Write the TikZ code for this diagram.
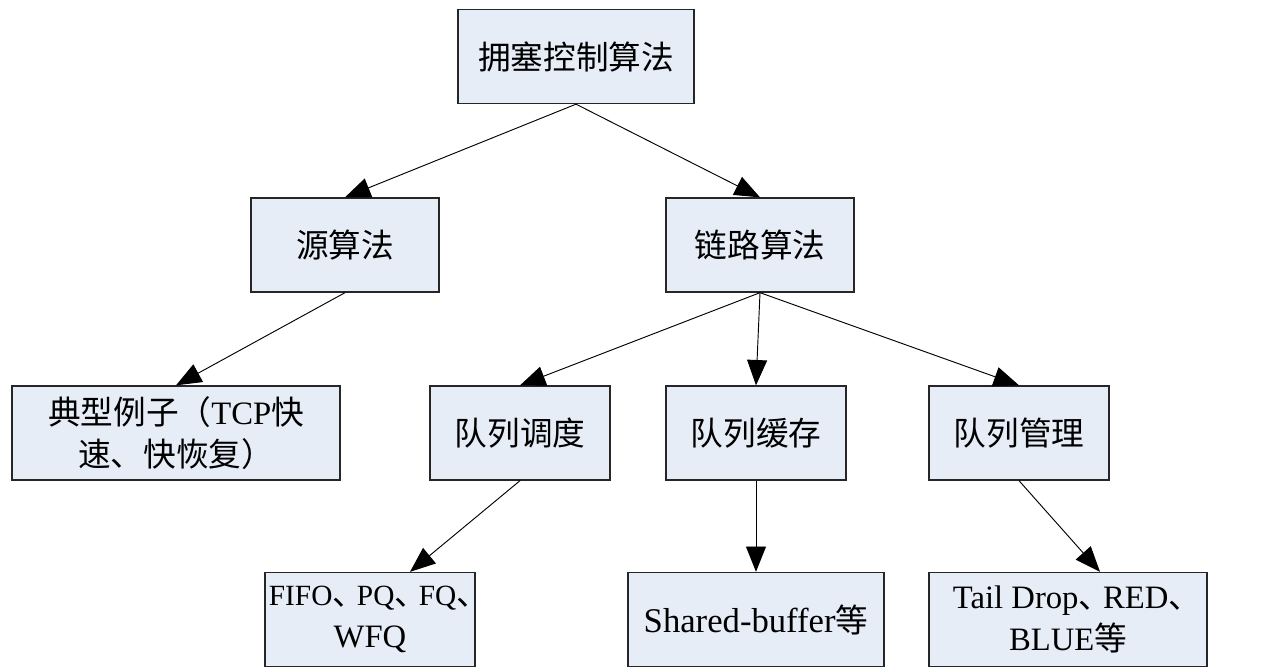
\documentclass[tikz,border=0pt]{standalone}
\usepackage{fontspec}
\setmainfont{Liberation Serif}
\newfontfamily\cjk{Noto Sans CJK SC}
\usetikzlibrary{arrows.meta}
\newcommand\en[1]{{\rmfamily #1}}
% enumeration comma between Latin words, set in a narrower box
\newcommand\dun{\makebox[0.75em][l]{、}}
\newcommand\lastdun{\makebox[0.45em][l]{、}}
\newcommand\sm[1]{{\rmfamily\fontsize{22}{31.5}\selectfont #1}}
\definecolor{boxfill}{RGB}{231,237,247}
\begin{document}
\begin{tikzpicture}[x=0.75pt,y=-0.75pt,
  box/.style={draw=black!85, line width=1pt, fill=boxfill, rectangle,
    minimum height=70.5pt, inner sep=0pt, align=center,
    font=\cjk\fontsize{24.5}{31.5}\selectfont},
  link/.style={draw=black, line width=0.7pt,
    -{Triangle[length=19pt,width=15pt]}}]
\useasboundingbox (0,0) rectangle (1272,668);

% top level
\node[box, minimum width=177pt] (root) at (576,56.5) {拥塞控制算法};

% second level
\node[box, minimum width=141pt] (src)  at (345,245) {源算法};
\node[box, minimum width=141pt] (lnk)  at (760,245) {链路算法};

% third level
\node[box, minimum width=246pt] (ex)    at (176,433) {典型例子（\en{TCP}快\\速、快恢复）};
\node[box, minimum width=135pt] (sched) at (520,433) {队列调度};
\node[box, minimum width=135pt] (buf)   at (756,433) {队列缓存};
\node[box, minimum width=135pt] (mgmt)  at (1019,433) {队列管理};

% leaves
\node[box, minimum width=157.5pt] (fifo) at (370,619.5)
  {\sm{FIFO}\dun\sm{PQ}\dun\sm{FQ}\lastdun\\\en{WFQ}};
\node[box, minimum width=192pt]   (shb)  at (756,619.5)
  {\en{\fontsize{26}{31.5}\selectfont Shared-buffer}等};
\node[box, minimum width=208.5pt] (tail) at (1068,619.5)
  {\en{Tail Drop}\dun\en{RED}\lastdun\\\en{BLUE}等};

% connectors
\draw[link] (root.south) -- (src.north);
\draw[link] (root.south) -- (lnk.north);
\draw[link] (src.south) -- (ex.north);
\draw[link] (lnk.south) -- (sched.north);
\draw[link] (lnk.south) -- (buf.north);
\draw[link] (lnk.south) -- (mgmt.north);
\draw[link] (sched.south) -- ([xshift=30pt]fifo.north);
\draw[link] (buf.south) -- (shb.north);
\draw[link] (mgmt.south) -- ([xshift=24pt]tail.north);
\end{tikzpicture}
\end{document}
